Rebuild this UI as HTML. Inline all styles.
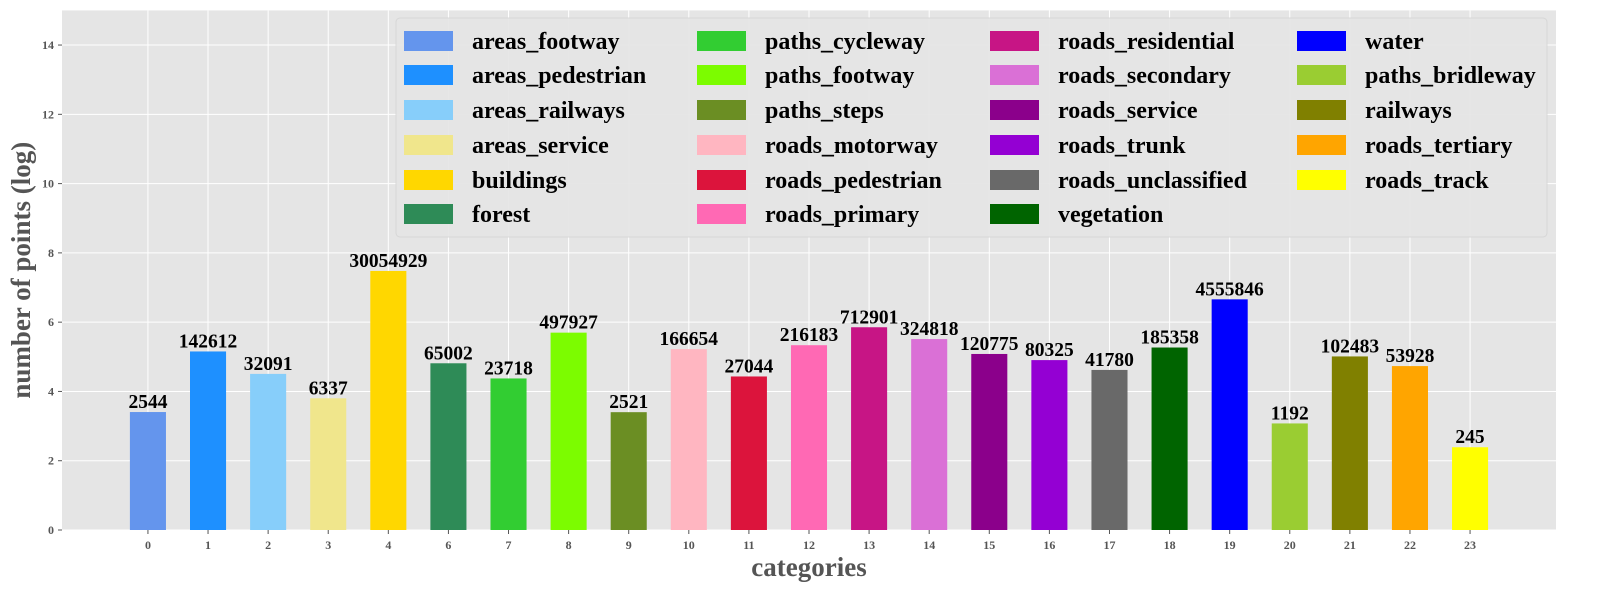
<!DOCTYPE html>
<html><head><meta charset="utf-8"><style>
html,body{margin:0;padding:0;background:#fff;}
svg{display:block;font-family:"Liberation Serif",serif;}
</style></head><body>
<svg id="chart" width="1623" height="611" xmlns="http://www.w3.org/2000/svg"></svg>
<script>
const categories=["0","1","2","3","4","6","7","8","9","10","11","12","13","14","15","16","17","18","19","20","21","22","23"];
const names=["areas_footway","areas_pedestrian","areas_railways","areas_service","buildings","forest","paths_cycleway","paths_footway","paths_steps","roads_motorway","roads_pedestrian","roads_primary","roads_residential","roads_secondary","roads_service","roads_trunk","roads_unclassified","vegetation","water","paths_bridleway","railways","roads_tertiary","roads_track"];
const counts=[2544,142612,32091,6337,30054929,65002,23718,497927,2521,166654,27044,216183,712901,324818,120775,80325,41780,185358,4555846,1192,102483,53928,245];
const colors=["#6495ED","#1E90FF","#87CEFA","#F0E68C","#FFD700","#2E8B57","#32CD32","#7CFC00","#6B8E23","#FFB6C1","#DC143C","#FF69B4","#C71585","#DA70D6","#8B008B","#9400D3","#696969","#006400","#0000FF","#9ACD32","#808000","#FFA500","#FFFF00"];
const yTicks=[0,2,4,6,8,10,12,14];
const NS="http://www.w3.org/2000/svg";
const svg=document.getElementById('chart');
const L=62,R=1556,T=10.4,B=530;
const n=counts.length;
const xMin=-0.3-(n-0.4)*0.05,xMax=(n-1)+0.3+(n-0.4)*0.05,yMax=15;
const xs=i=>L+(i-xMin)/(xMax-xMin)*(R-L);
const ys=v=>B-v/yMax*(B-T);
function el(tag,attrs,parent){const e=document.createElementNS(NS,tag);for(const k in attrs)e.setAttribute(k,attrs[k]);(parent||svg).appendChild(e);return e;}
const bg=el('rect',{x:L,y:T,width:R-L,height:B-T,fill:'#e5e5e5'});


yTicks.forEach(t=>{
  const g=el('line',{x1:L,x2:R,y1:ys(t),y2:ys(t),stroke:'#fff','stroke-width':1});
  
  
  el('line',{x1:L-4,x2:L,y1:ys(t),y2:ys(t),stroke:'#555','stroke-width':1});
  const tx=el('text',{x:L-8,y:ys(t)+4,'text-anchor':'end','font-size':12,'font-weight':'bold',fill:'#555'});
  tx.textContent=t;
  
  
});
categories.forEach((c,i)=>{
  const g=el('line',{x1:xs(i),x2:xs(i),y1:T,y2:B,stroke:'#fff','stroke-width':1});
  
  
});
counts.forEach((v,i)=>{
  const h=Math.log10(v);
  const w=0.6/(xMax-xMin)*(R-L);
  const r=el('rect',{x:xs(i)-w/2,y:ys(h),width:w,height:B-ys(h),fill:colors[i]});
  
  
  const t=el('text',{x:xs(i),y:ys(h)-4,'text-anchor':'middle','font-size':19.5,'font-weight':'bold',fill:'#000'});
  t.textContent=v;
  
  
  el('line',{x1:xs(i),x2:xs(i),y1:B,y2:B+4,stroke:'#555','stroke-width':1});
  const tl=el('text',{x:xs(i),y:B+19,'text-anchor':'middle','font-size':12,'font-weight':'bold',fill:'#555'});
  tl.textContent=categories[i];
  
  
});
const xt=el('text',{x:(L+R)/2,y:576,'text-anchor':'middle','font-size':27,'font-weight':'bold',fill:'#555'});
xt.textContent='categories';


const yt=el('text',{x:0,y:0,'text-anchor':'middle','font-size':27,'font-weight':'bold',fill:'#555',transform:'translate(30,'+((T+B)/2)+') rotate(-90)'});
yt.textContent='number of points (log)';


const lg=el('g',{});


el('rect',{x:396,y:18,width:1151,height:219,rx:4,fill:'#e5e5e5',stroke:'#d5d5d5','stroke-width':1,opacity:0.9},lg);
const colX=[404,697,990,1297];
const rowY=[41,75,110,145,180,214];
names.forEach((nm,i)=>{
  const c=Math.floor(i/6),r=i%6;
  const e=el('g',{},lg);
  
  
  el('rect',{x:colX[c],y:rowY[r]-10,width:49,height:20,fill:colors[i]},e);
  const t=el('text',{x:colX[c]+68,y:rowY[r]+8,'font-size':24,'font-weight':'bold',fill:'#000'},e);
  t.textContent=nm;
});
</script>
</body></html>
